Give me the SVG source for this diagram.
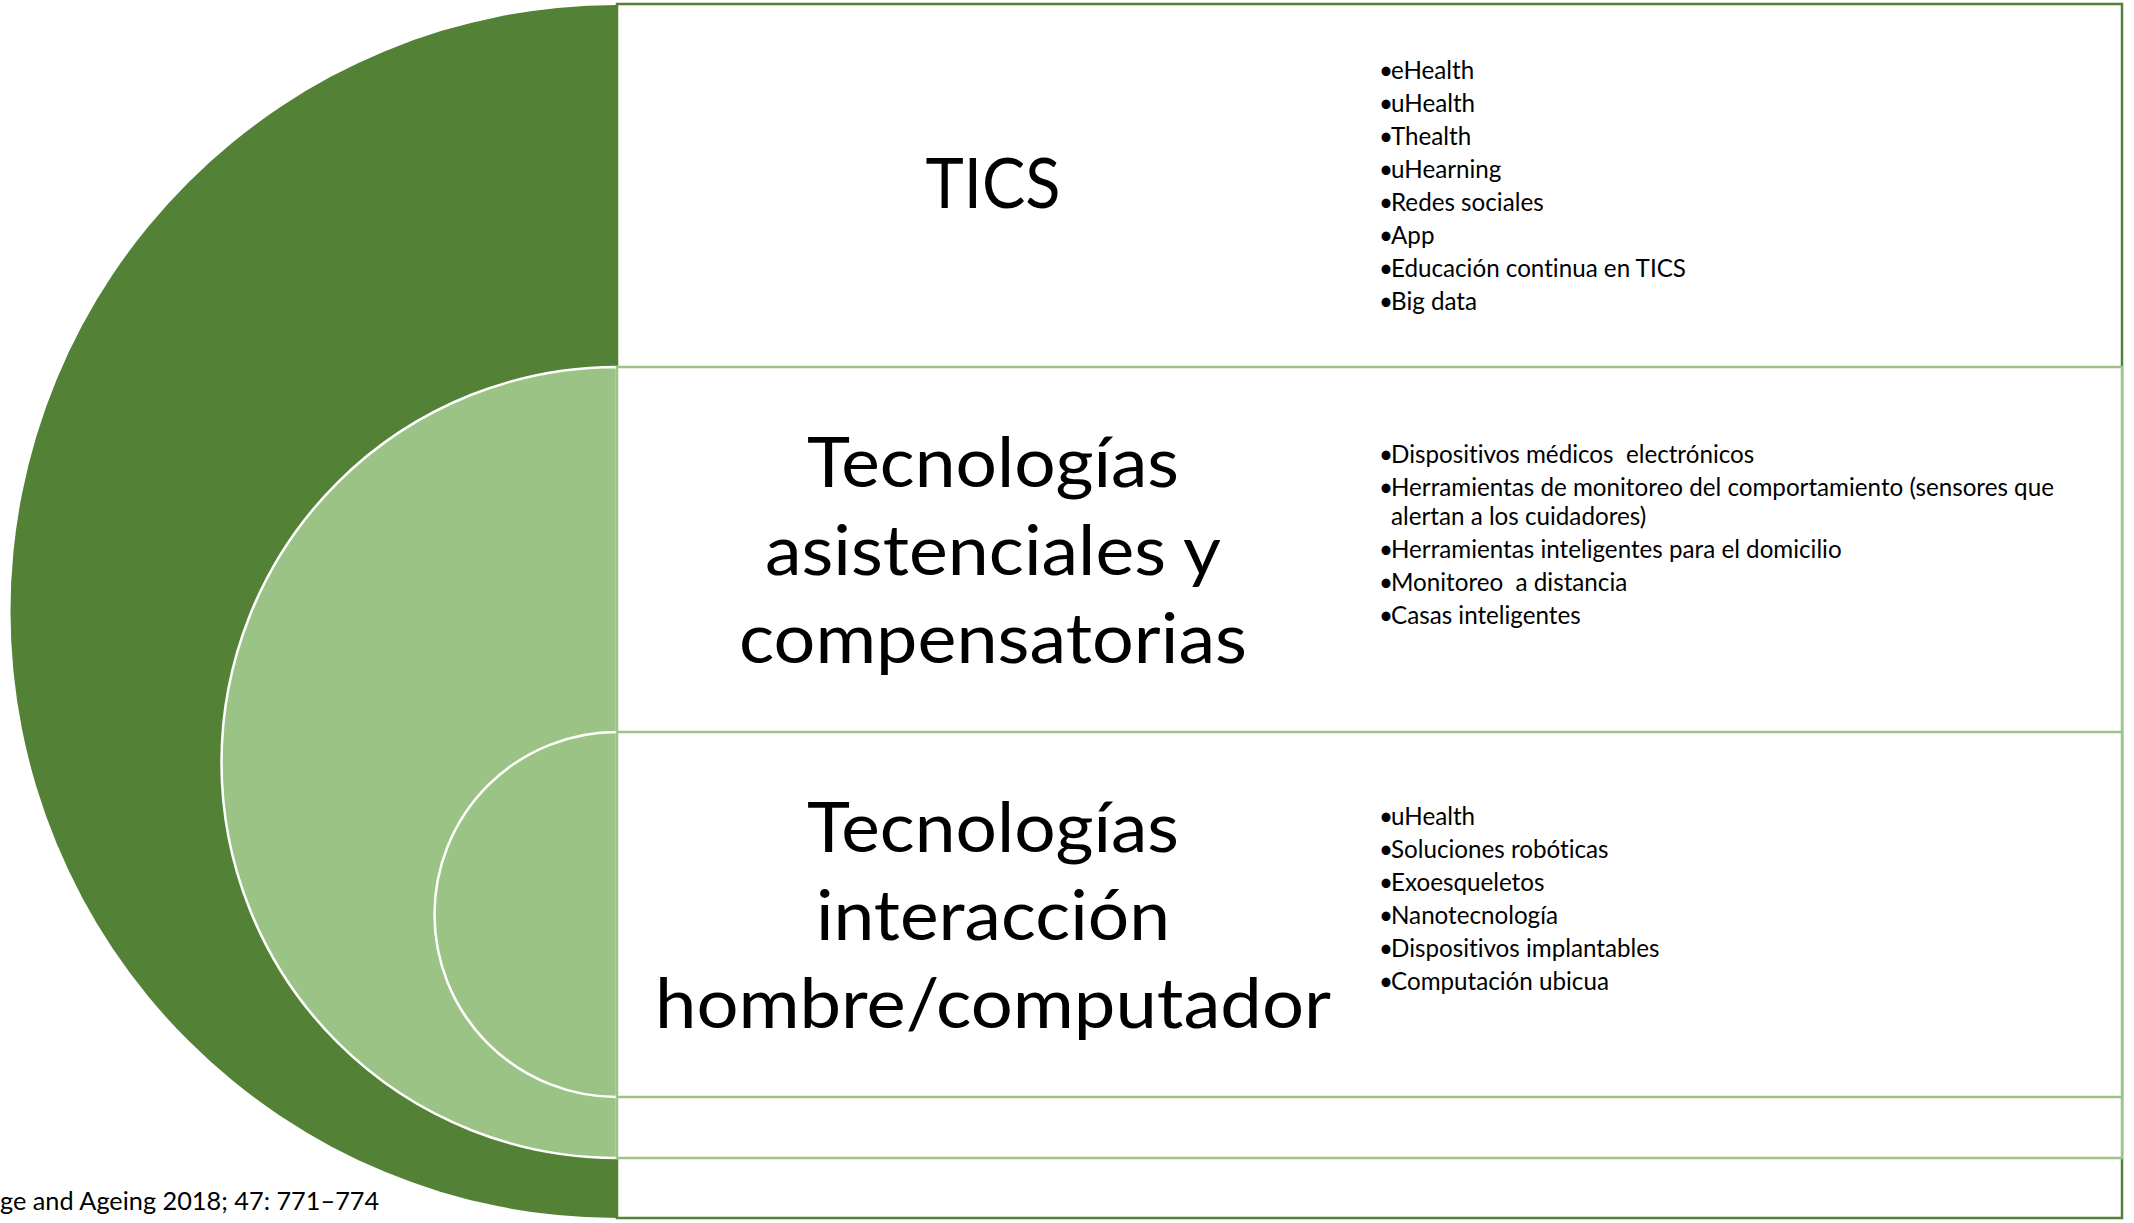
<svg xmlns="http://www.w3.org/2000/svg" width="2134" height="1223" viewBox="0 0 2134 1223">
<style>
text{font-variant-ligatures:none;font-feature-settings:"liga" 0,"dlig" 0}
.title{font-family:Lato,"Liberation Sans",sans-serif;font-size:70px;fill:#000;text-anchor:middle}
.item{font-family:Lato,"Liberation Sans",sans-serif;font-size:24.2px;fill:#000;white-space:pre}
.note{font-family:Lato,"Liberation Sans",sans-serif;font-size:25.3px;fill:#000}
.dark{fill:#538135}
.light{fill:#9BC385;stroke:#fff;stroke-width:2.5}
.boxD{fill:#fff;stroke:#538135;stroke-width:2.5}
.boxL{fill:#fff;stroke:#9DC486;stroke-width:2.5}
</style>
<rect width="2134" height="1223" fill="#fff"/>
<g id="node-tics">
  <path class="dark" d="M617,5 A606.5,606.5 0 0 0 617,1218 Z"/>
  <rect class="boxD" x="617" y="4" width="1505" height="1214"/>
</g>
<g id="node-asistenciales">
  <path class="light" d="M617,367 A395.5,395.5 0 0 0 617,1158 Z"/>
  <rect class="boxL" x="617" y="367" width="1505" height="791"/>
</g>
<g id="node-interaccion">
  <path class="light" d="M617,732 A182.5,182.5 0 0 0 617,1097 Z"/>
  <rect class="boxL" x="617" y="732" width="1505" height="365"/>
</g>
<g id="connectors"></g>
<g id="text-tics">
  <text class="title" x="993" y="208" textLength="135" lengthAdjust="spacingAndGlyphs">TICS</text>
  <text class="item" x="1379" y="78.5">•<tspan x="1391">eHealth</tspan></text>
  <text class="item" x="1379" y="111.5">•<tspan x="1391">uHealth</tspan></text>
  <text class="item" x="1379" y="144.5">•<tspan x="1391">Thealth</tspan></text>
  <text class="item" x="1379" y="177.5">•<tspan x="1391">uHearning</tspan></text>
  <text class="item" x="1379" y="210.5">•<tspan x="1391">Redes sociales</tspan></text>
  <text class="item" x="1379" y="243.5">•<tspan x="1391">App</tspan></text>
  <text class="item" x="1379" y="276.5">•<tspan x="1391">Educación continua en TICS</tspan></text>
  <text class="item" x="1379" y="309.5">•<tspan x="1391">Big data</tspan></text>
</g>
<g id="text-asistenciales">
  <text class="title" x="993" y="487" textLength="372" lengthAdjust="spacingAndGlyphs">Tecnologías</text>
  <text class="title" x="993" y="575" textLength="456" lengthAdjust="spacingAndGlyphs">asistenciales y</text>
  <text class="title" x="993" y="663" textLength="508" lengthAdjust="spacingAndGlyphs">compensatorias</text>
  <text class="item" x="1379" y="462.5" xml:space="preserve">•<tspan x="1391">Dispositivos médicos  electrónicos</tspan></text>
  <text class="item" x="1379" y="495.5">•<tspan x="1391">Herramientas de monitoreo del comportamiento (sensores que</tspan></text>
  <text class="item" x="1391" y="524.5">alertan a los cuidadores)</text>
  <text class="item" x="1379" y="557.5">•<tspan x="1391">Herramientas inteligentes para el domicilio</tspan></text>
  <text class="item" x="1379" y="590.5" xml:space="preserve">•<tspan x="1391">Monitoreo  a distancia</tspan></text>
  <text class="item" x="1379" y="623.5">•<tspan x="1391">Casas inteligentes</tspan></text>
</g>
<g id="text-interaccion">
  <text class="title" x="993" y="852" textLength="372" lengthAdjust="spacingAndGlyphs">Tecnologías</text>
  <text class="title" x="993" y="940" textLength="354" lengthAdjust="spacingAndGlyphs">interacción</text>
  <text class="title" x="993" y="1028" textLength="676" lengthAdjust="spacingAndGlyphs">hombre/computador</text>
  <text class="item" x="1379" y="824.5">•<tspan x="1391">uHealth</tspan></text>
  <text class="item" x="1379" y="857.5">•<tspan x="1391">Soluciones robóticas</tspan></text>
  <text class="item" x="1379" y="890.5">•<tspan x="1391">Exoesqueletos</tspan></text>
  <text class="item" x="1379" y="923.5">•<tspan x="1391">Nanotecnología</tspan></text>
  <text class="item" x="1379" y="956.5">•<tspan x="1391">Dispositivos implantables</tspan></text>
  <text class="item" x="1379" y="989.5">•<tspan x="1391">Computación ubicua</tspan></text>
</g>
<text class="note" x="0" y="1210">ge and Ageing 2018; 47: 771–774</text>
</svg>
